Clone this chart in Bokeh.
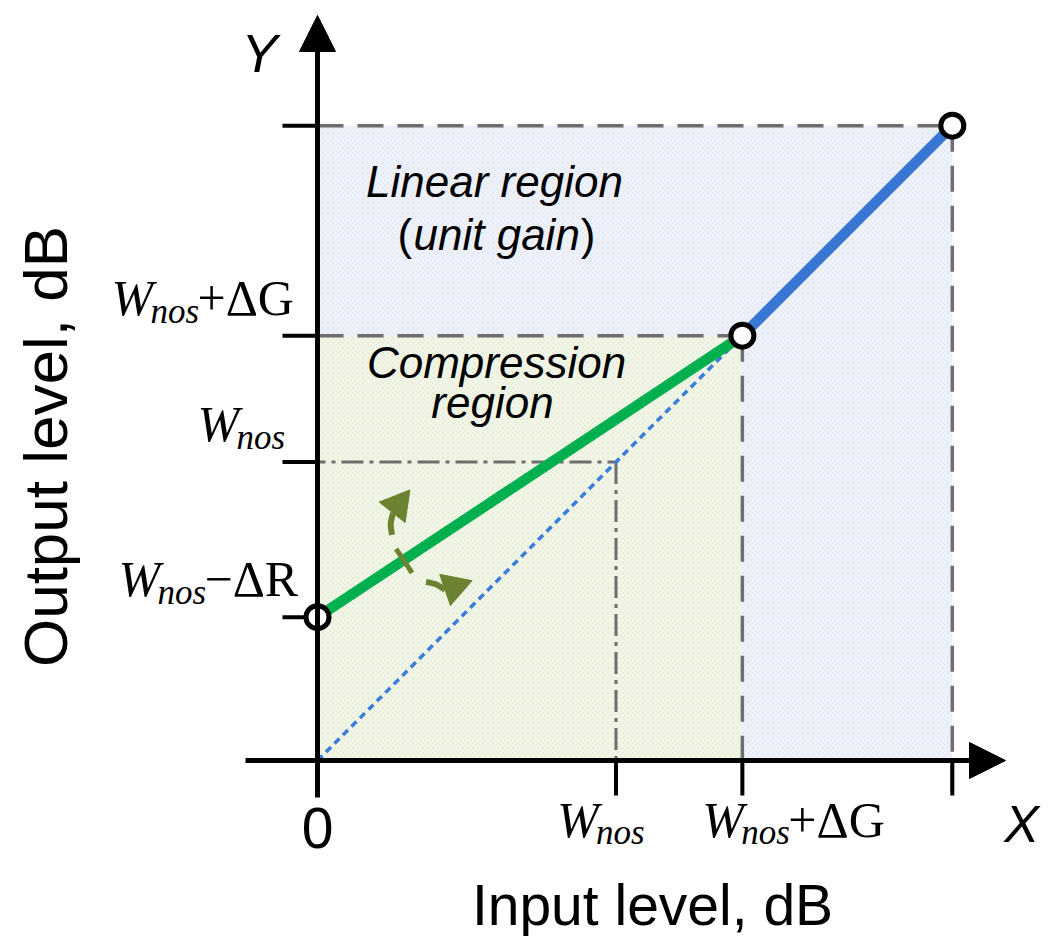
import math
from bokeh.plotting import figure
from bokeh.models import Range1d, Arrow, NormalHead
from bokeh.core.properties import value
from bokeh.embed import file_html
from bokeh.resources import INLINE

# ---------------- data (schematic levels, dB-like units) ----------------
W_NOS = 3.0          # noise level W_nos
DELTA_G = 1.27       # gain headroom  -> W_nos + dG
DELTA_R = 1.56       # compression    -> W_nos - dR
X_MAX = 6.38         # end of linear region

# transfer characteristic
comp_x = [0.0, W_NOS + DELTA_G]
comp_y = [W_NOS - DELTA_R, W_NOS + DELTA_G]
lin_x = [W_NOS + DELTA_G, X_MAX]
lin_y = [W_NOS + DELTA_G, X_MAX]
unit_x = [0.0, W_NOS + DELTA_G]
unit_y = [0.0, W_NOS + DELTA_G]
knee_x = [0.0, W_NOS + DELTA_G, X_MAX]
knee_y = [W_NOS - DELTA_R, W_NOS + DELTA_G, X_MAX]

# ticks and tick labels (main, subscript, suffix)
y_ticks = [W_NOS - DELTA_R, W_NOS, W_NOS + DELTA_G, X_MAX]
y_tick_labels = [("W", "nos", "\u2212\u0394R"), ("W", "nos", ""), ("W", "nos", "+\u0394G"), None]
x_ticks = [W_NOS, W_NOS + DELTA_G, X_MAX]
x_tick_labels = [("W", "nos", ""), ("W", "nos", "+\u0394G"), None]

# ---------------- layout helpers ----------------
K = 99.5                     # pixels per unit
OX, OY = 317, 760            # canvas pixel of the origin
W_PX, H_PX = 1041, 936
BASE_FIX = 0.36              # baseline correction (fraction of font size)


def dx(px):
    return px / K


p = figure(width=W_PX, height=H_PX, output_backend="svg", toolbar_location=None,
           x_axis_type=None, y_axis_type=None, min_border=0,
           x_range=Range1d(-OX / K, (W_PX - OX) / K),
           y_range=Range1d(-(H_PX - OY) / K, OY / K))
p.outline_line_color = None
p.background_fill_color = "white"
p.border_fill_color = "white"

SERIF = value("Liberation Serif")
SANS = value("Liberation Sans")


def txt(x, y, s, size, font=SANS, style="normal", align="center", angle=0.0):
    """x, y in data units at the alphabetic baseline."""
    shift = dx(BASE_FIX * size)
    if angle:
        x = x - shift
    else:
        y = y + shift
    p.text(x=[x], y=[y], text=[s], text_font=font, text_font_style=style,
           text_font_size=f"{size}px", text_align=align, text_baseline="alphabetic",
           text_color="black", angle=angle)


# ---------------- regions ----------------
p.quad(left=0, right=X_MAX, bottom=0, top=X_MAX, fill_color="#f0f3fa", line_color=None,
       hatch_pattern="diagonal_cross", hatch_color="#d8e0f1", hatch_scale=5, hatch_weight=0.6)
p.quad(left=0, right=W_NOS + DELTA_G, bottom=0, top=W_NOS + DELTA_G, fill_color="#f3f7ea",
       line_color=None, hatch_pattern="diagonal_cross", hatch_color="#dde7c9",
       hatch_scale=5, hatch_weight=0.6)

# ---------------- guide lines ----------------
gray = "#6e6e6e"
top = X_MAX
g = W_NOS + DELTA_G
p.segment(x0=[0, top, 0, g], y0=[top, top, g, g], x1=[top, top, g, g],
          y1=[top, -dx(35), g, 0], line_color=gray, line_width=3.5, line_dash="26 14")
p.segment(x0=[-dx(14), W_NOS], y0=[W_NOS, W_NOS], x1=[W_NOS, W_NOS], y1=[W_NOS, 0],
          line_color=gray, line_width=3, line_dash="22 6 4 6")

# unit-gain reference line
p.line(unit_x, unit_y, line_color="#3b7ddd", line_width=3.5, line_dash="7 5")
# compression and linear segments
p.line(comp_x, comp_y, line_color="#00b04f", line_width=10.5)
p.line(lin_x, lin_y, line_color="#3878d4", line_width=10.5)

# ---------------- axes ----------------
p.add_layout(Arrow(end=NormalHead(size=36, fill_color="black", line_color="black"),
                   x_start=0, y_start=-dx(37), x_end=0, y_end=dx(OY - 15),
                   line_width=5, line_color="black"))
p.add_layout(Arrow(end=NormalHead(size=36, fill_color="black", line_color="black"),
                   x_start=-dx(72), y_start=0, x_end=dx(1005 - OX), y_end=0,
                   line_width=5, line_color="black"))
# ticks
p.segment(x0=[-dx(35)] * len(y_ticks), y0=y_ticks, x1=[0] * len(y_ticks), y1=y_ticks,
          line_color="black", line_width=4)
p.segment(x0=x_ticks, y0=[0] * len(x_ticks), x1=x_ticks, y1=[-dx(35)] * len(x_ticks),
          line_color="black", line_width=4)

# knee points
p.scatter(knee_x, knee_y, size=23, fill_color="white", line_color="black", line_width=5)

# ---------------- tick labels ----------------


def tick_label(x, y, parts):
    main, sub, suf = parts
    txt(x, y, main, 50, font=SERIF, style="italic", align="left")
    txt(x + dx(39), y - dx(8), sub, 35, font=SERIF, style="italic", align="left")
    if suf:
        txt(x + dx(86), y, suf, 50, font=SERIF, align="left")


y_label_left = {0: -199, 1: -120, 2: -206}
for i, (t, lab) in enumerate(zip(y_ticks, y_tick_labels)):
    if lab is None:
        continue
    tick_label(dx(y_label_left[i]), t + dx(20), lab)

x_label_left = {0: -59, 1: -40}
for i, (t, lab) in enumerate(zip(x_ticks, x_tick_labels)):
    if lab is None:
        continue
    tick_label(t + dx(x_label_left[i]), -dx(77), lab)

txt(0, -dx(848 - OY), "0", 57)
txt(-dx(OX - 259), dx(OY - 72), "Y", 54, style="italic")
txt(dx(1021 - OX), -dx(842 - OY), "X", 52, style="italic")

# axis titles
txt(dx(652 - OX), -dx(925 - OY), "Input level, dB", 57)
txt(-dx(OX - 67), dx(OY - 446), "Output level, dB", 62, angle=math.pi / 2)

# region labels
txt(dx(494 - OX), dx(OY - 197), "Linear region", 44, style="italic")
txt(dx(397 - OX), dx(OY - 250), "(", 44, align="left")
txt(dx(413 - OX), dx(OY - 250), "unit gain", 44, style="italic", align="left")
txt(dx(595 - OX), dx(OY - 250), ")", 44, align="right")
txt(dx(496 - OX), dx(OY - 378), "Compression", 44, style="italic")
txt(dx(492 - OX), dx(OY - 418), "region", 44, style="italic")

# ---------------- rotation arrows around a pivot on the compression line ----------------
olive = "#6b8230"
piv_x = 0.87
slope = (comp_y[1] - comp_y[0]) / (comp_x[1] - comp_x[0])
piv_y = comp_y[0] + slope * piv_x


def P(ox, oy):
    # pixel offsets (screen, y down) from the pivot -> data
    return piv_x + dx(ox), piv_y - dx(oy)


# pivot mark perpendicular to the line
a = P(-8, -11); b = P(8, 13)
p.segment(x0=[a[0]], y0=[a[1]], x1=[b[0]], y1=[b[1]], line_color=olive, line_width=5)
# upper arrow
s = P(-12, -25); c = P(-14, -36); e = P(-11, -47)
p.bezier(x0=[s[0]], y0=[s[1]], x1=[e[0]], y1=[e[1]], cx0=[c[0]], cy0=[c[1]], cx1=[c[0]], cy1=[c[1]],
         line_color=olive, line_width=6)
h = P(-6, -55)
p.scatter([h[0]], [h[1]], marker="triangle", size=33, angle=-0.67, fill_color=olive,
          line_color=olive)
# lower arrow
s = P(22, 22); c = P(32, 24); e = P(41, 30)
p.bezier(x0=[s[0]], y0=[s[1]], x1=[e[0]], y1=[e[1]], cx0=[c[0]], cy0=[c[1]], cx1=[c[0]], cy1=[c[1]],
         line_color=olive, line_width=6)
h = P(50, 27)
p.scatter([h[0]], [h[1]], marker="triangle", size=33, angle=-1.24, fill_color=olive,
          line_color=olive)

open("out.html", "w").write(file_html(p, INLINE))
